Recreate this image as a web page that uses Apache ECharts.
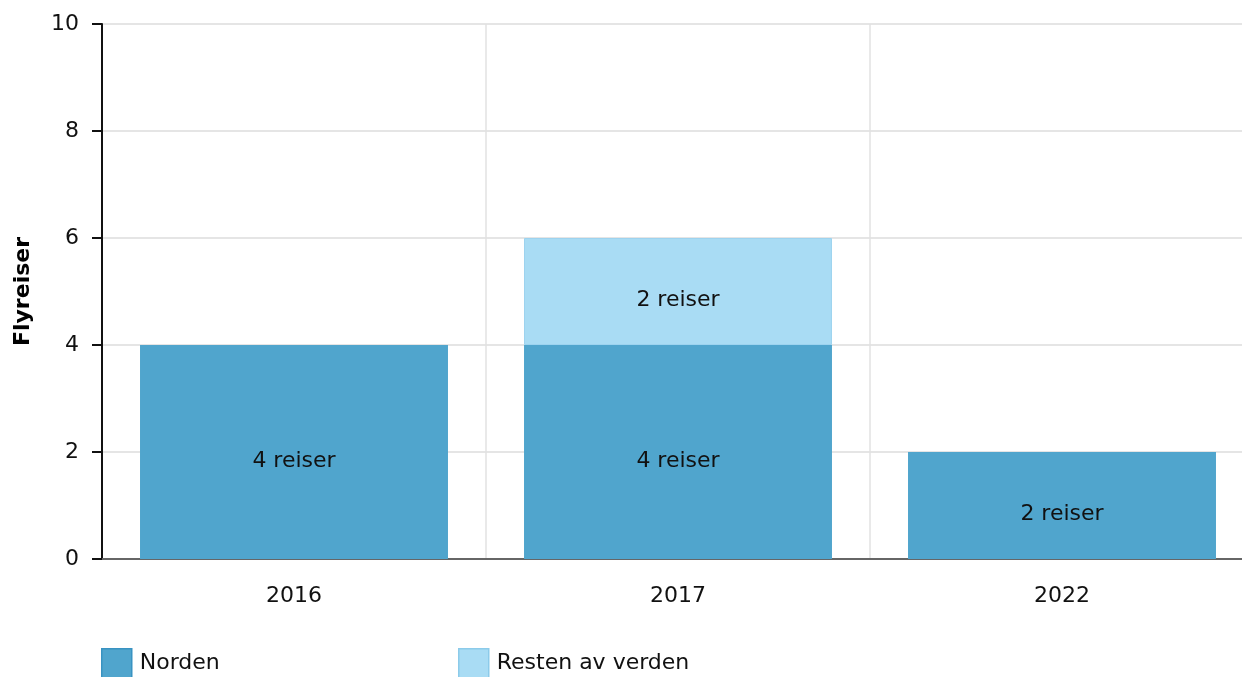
<!DOCTYPE html>
<html>
<head>
<meta charset="utf-8">
<script src="https://cdn.jsdelivr.net/npm/echarts@6/dist/echarts.min.js"></script>
<style>
  html, body { margin: 0; padding: 0; background: #fff; overflow: hidden; width: 1242px; height: 677px; }
  /* 图表比窗口略宽, 右侧最后一个类目被裁掉一点, 与原图一致 */
  #chart { width: 1254px; height: 677px; }
</style>
</head>
<body>
<div id="chart"></div>
<script>
// 数据
const years = ['2016', '2017', '2022'];
const norden = [4, 4, 2];
const restenAvVerden = ['-', 2, '-'];
const yTicks = [0, 2, 4, 6, 8, 10];

const fontFamily = '"DejaVu Sans", Verdana, sans-serif';
const fontSize = 22;

const chart = echarts.init(document.getElementById('chart'));

const options = {
  animation: false,
  textStyle: { fontFamily: fontFamily },
  grid: {
    left: 102,
    right: 0,
    top: 24,
    bottom: 118,
    containLabel: false
  },
  legend: [
    {
      left: 101,
      top: 648,
      padding: 0,
      itemWidth: 30,
      itemHeight: 30,
      icon: 'rect',
      data: ['Norden'],
      itemStyle: { borderColor: '#3993c2', borderWidth: 1.5 },
      textStyle: { fontSize: fontSize, color: '#111', fontFamily: fontFamily, padding: [0, 0, 0, 3] }
    },
    {
      left: 458,
      top: 648,
      padding: 0,
      itemWidth: 30,
      itemHeight: 30,
      icon: 'rect',
      data: ['Resten av verden'],
      itemStyle: { borderColor: '#8ccbea', borderWidth: 1.5 },
      textStyle: { fontSize: fontSize, color: '#111', fontFamily: fontFamily, padding: [0, 0, 0, 3] }
    }
  ],
  xAxis: {
    type: 'category',
    data: years,
    axisLine: { lineStyle: { color: '#666', width: 2 } },
    axisTick: { alignWithLabel: true, length: 10, lineStyle: { color: '#999', width: 2 } },
    axisLabel: { fontSize: fontSize, color: '#111', margin: 26, fontFamily: fontFamily },
    splitLine: { show: true, lineStyle: { color: '#e2e2e2', width: 1.5 } }
  },
  yAxis: {
    type: 'value',
    min: yTicks[0],
    max: yTicks[yTicks.length - 1],
    interval: 2,
    name: 'Flyreiser',
    nameLocation: 'middle',
    nameGap: 68,
    nameTextStyle: { fontSize: fontSize, fontWeight: 'bold', color: '#000', fontFamily: fontFamily },
    axisLine: { show: true, lineStyle: { color: '#111', width: 2 } },
    axisTick: { show: true, length: 10, lineStyle: { color: '#111', width: 2 } },
    axisLabel: { fontSize: fontSize, color: '#111', margin: 23, fontFamily: fontFamily },
    splitLine: { show: true, lineStyle: { color: '#dcdcdc', width: 1.5 } }
  },
  series: [
    {
      name: 'Norden',
      type: 'bar',
      stack: 'total',
      data: norden,
      barCategoryGap: '19.8%',
      itemStyle: { color: '#50a5cd' },
      label: {
        show: true,
        position: 'inside',
        offset: [0, 9],
        formatter: '{c} reiser',
        fontSize: fontSize,
        color: '#111',
        fontFamily: fontFamily
      }
    },
    {
      name: 'Resten av verden',
      type: 'bar',
      stack: 'total',
      data: restenAvVerden,
      barCategoryGap: '19.8%',
      itemStyle: { color: '#a9dcf4', borderColor: '#9dd3ef', borderWidth: 1 },
      label: {
        show: true,
        position: 'inside',
        offset: [0, 9],
        formatter: '{c} reiser',
        fontSize: fontSize,
        color: '#111',
        fontFamily: fontFamily
      }
    }
  ]
};

chart.setOption(options);
</script>
</body>
</html>
